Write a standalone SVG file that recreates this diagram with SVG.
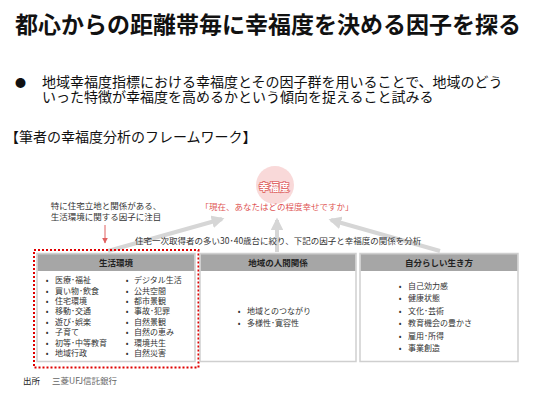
<svg xmlns="http://www.w3.org/2000/svg" width="536" height="401" viewBox="0 0 536 401">
<defs>
<style>
text{font-family:"Noto Sans CJK JP","Noto Sans",sans-serif;fill:#222}
.t{font-size:23px;font-weight:700;fill:#111}
.b{font-size:14px;fill:#111}
.s{font-size:8.5px;fill:#333}
.i{font-size:8px;fill:#333}
.h{font-size:8.5px;font-weight:700;fill:#222;text-anchor:middle}
.box{fill:#fff;stroke:#cfcfcf;stroke-width:1.5}
.hdr{fill:#a6a6a6}
.arr{stroke:#d6d6d6;stroke-width:4;fill:none;marker-end:url(#ga)}
</style>
<marker id="ga" viewBox="0 0 10 10" refX="8" refY="5" markerWidth="3.2" markerHeight="3.2" orient="auto" markerUnits="strokeWidth">
<path d="M0,0 L10,5 L0,10 z" fill="#d6d6d6"/>
</marker>
<marker id="ra" viewBox="0 0 10 10" refX="9" refY="5" markerWidth="6" markerHeight="6" orient="auto" markerUnits="userSpaceOnUse">
<path d="M0,0 L10,5 L0,10 z" fill="#e06060"/>
</marker>
</defs>
<rect width="536" height="401" fill="#fff"/>
<text class="t" x="15" y="33">都心からの距離帯毎に幸福度を決める因子を探る</text>
<text class="b" x="15" y="86.5" style="font-size:11px">●</text>
<text class="b"><tspan x="42" y="86.5">地域幸福度指標における幸福度とその因子群を用いることで、地域のどう</tspan><tspan x="42" y="101.5">いった特徴が幸福度を高めるかという傾向を捉えること試みる</tspan></text>
<text class="b" x="5" y="142">【筆者の幸福度分析のフレームワーク】</text>

<g id="connectors">
<line class="arr" x1="108" y1="251" x2="222" y2="219"/>
<line class="arr" x1="277" y1="252" x2="277" y2="220"/>
<line class="arr" x1="440" y1="251" x2="331" y2="220"/>
<line x1="105" y1="225" x2="105" y2="243" stroke="#e06060" stroke-width="1" marker-end="url(#ra)"/>
</g>

<g id="happiness">
<circle cx="275" cy="185" r="19" fill="#f9d9d9"/>
<text x="274" y="191" text-anchor="middle" style="font-size:10px;font-weight:700;fill:#fff;stroke:#e06a6a;stroke-width:1.6;paint-order:stroke">幸福度</text>
<text x="277" y="210" text-anchor="middle" style="font-size:8.5px;fill:#e05555">「現在、あなたはどの程度幸せですか」</text>
</g>

<g id="note">
<text class="s" x="106" y="209" text-anchor="middle">特に住宅立地と関係がある、</text>
<text class="s" x="106" y="220" text-anchor="middle">生活環境に関する因子に注目</text>
</g>

<text class="s" x="135" y="244">住宅一次取得者の多い30･40歳台に絞り、下記の因子と幸福度の関係を分析</text>

<g id="living">
<rect class="box" x="37" y="253.5" width="158" height="108"/>
<rect class="hdr" x="37.75" y="254.25" width="156.5" height="16.75"/>
<text class="h" x="116" y="266">生活環境</text>
<g class="i">
<text class="i" x="47" y="283" text-anchor="middle">•</text><text class="i" x="55" y="283">医療･福祉</text>
<text class="i" x="47" y="293.5" text-anchor="middle">•</text><text class="i" x="55" y="293.5">買い物･飲食</text>
<text class="i" x="47" y="304" text-anchor="middle">•</text><text class="i" x="55" y="304">住宅環境</text>
<text class="i" x="47" y="314.4" text-anchor="middle">•</text><text class="i" x="55" y="314.4">移動･交通</text>
<text class="i" x="47" y="324.8" text-anchor="middle">•</text><text class="i" x="55" y="324.8">遊び･娯楽</text>
<text class="i" x="47" y="335.3" text-anchor="middle">•</text><text class="i" x="55" y="335.3">子育て</text>
<text class="i" x="47" y="345.7" text-anchor="middle">•</text><text class="i" x="55" y="345.7">初等･中等教育</text>
<text class="i" x="47" y="356.2" text-anchor="middle">•</text><text class="i" x="55" y="356.2">地域行政</text>
<text class="i" x="127" y="283" text-anchor="middle">•</text><text class="i" x="134" y="283">デジタル生活</text>
<text class="i" x="127" y="293.5" text-anchor="middle">•</text><text class="i" x="134" y="293.5">公共空間</text>
<text class="i" x="127" y="304" text-anchor="middle">•</text><text class="i" x="134" y="304">都市景観</text>
<text class="i" x="127" y="314.4" text-anchor="middle">•</text><text class="i" x="134" y="314.4">事故･犯罪</text>
<text class="i" x="127" y="324.8" text-anchor="middle">•</text><text class="i" x="134" y="324.8">自然景観</text>
<text class="i" x="127" y="335.3" text-anchor="middle">•</text><text class="i" x="134" y="335.3">自然の恵み</text>
<text class="i" x="127" y="345.7" text-anchor="middle">•</text><text class="i" x="134" y="345.7">環境共生</text>
<text class="i" x="127" y="356.2" text-anchor="middle">•</text><text class="i" x="134" y="356.2">自然災害</text>
</g>
<rect x="34" y="250" width="164.5" height="117.5" fill="none" stroke="#e00000" stroke-width="2" stroke-dasharray="2,2"/>
</g>

<g id="relations">
<rect class="box" x="200" y="253.5" width="156" height="108"/>
<rect class="hdr" x="200.75" y="254.25" width="154.5" height="16.75"/>
<text class="h" x="278" y="266">地域の人間関係</text>
<text class="i" x="239" y="314" text-anchor="middle">•</text><text class="i" x="247" y="314">地域とのつながり</text>
<text class="i" x="239" y="326" text-anchor="middle">•</text><text class="i" x="247" y="326">多様性･寛容性</text>
</g>

<g id="selfway">
<rect class="box" x="360" y="253.5" width="158" height="108"/>
<rect class="hdr" x="360.75" y="254.25" width="156.5" height="16.75"/>
<text class="h" x="439" y="266">自分らしい生き方</text>
<text class="i" x="400" y="288.7" text-anchor="middle">•</text><text class="i" x="408" y="288.7">自己効力感</text>
<text class="i" x="400" y="301.2" text-anchor="middle">•</text><text class="i" x="408" y="301.2">健康状態</text>
<text class="i" x="400" y="313.7" text-anchor="middle">•</text><text class="i" x="408" y="313.7">文化･芸術</text>
<text class="i" x="400" y="326" text-anchor="middle">•</text><text class="i" x="408" y="326">教育機会の豊かさ</text>
<text class="i" x="400" y="338.7" text-anchor="middle">•</text><text class="i" x="408" y="338.7">雇用･所得</text>
<text class="i" x="400" y="351.2" text-anchor="middle">•</text><text class="i" x="408" y="351.2">事業創造</text>
</g>

<text class="s" x="23" y="384" style="fill:#222">出所</text>
<text class="s" x="52" y="384" style="fill:#666">三菱UFJ信託銀行</text>
</svg>
